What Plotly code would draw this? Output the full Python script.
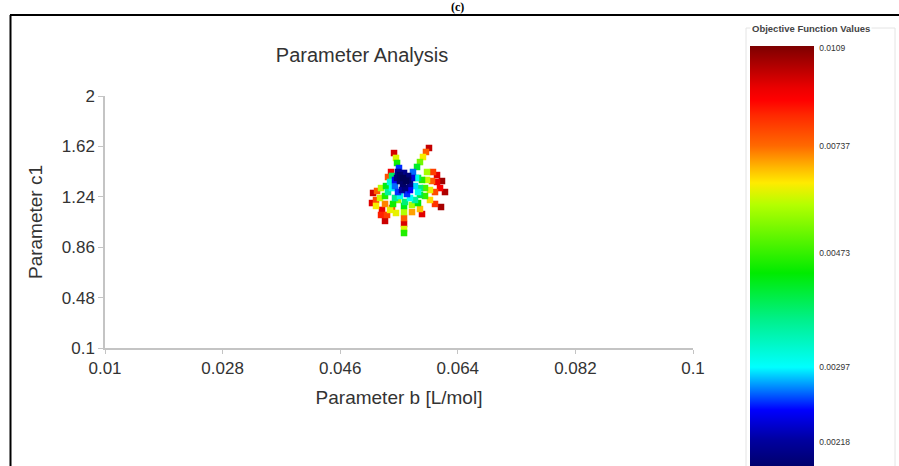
import numpy as np
import plotly.graph_objects as go

# ---------------- data ----------------
b_values = [
    0.05515, 0.05561, 0.05607, 0.05561, 0.05515, 0.05638, 0.05485, 0.05592, 0.05668, 0.05546,
    0.05470, 0.05638, 0.05577,
    0.05439, 0.05668, 0.05485, 0.05699, 0.05439, 0.05622, 0.05714, 0.05500,
    0.05393, 0.05745, 0.05515, 0.05668, 0.05363, 0.05791, 0.05760,
    0.05332, 0.05439, 0.05592, 0.05745, 0.05821, 0.05791, 0.05393, 0.05821,
    0.05470, 0.05454, 0.05424,
    0.05776, 0.05821, 0.05867, 0.05913, 0.05959,
    0.05852, 0.05929, 0.06005, 0.06082, 0.06158,
    0.05898, 0.05974, 0.06051, 0.06128, 0.06204,
    0.05898, 0.05974, 0.06051, 0.06143,
    0.05791, 0.05821, 0.05852,
    0.05577, 0.05577, 0.05577, 0.05577, 0.05577, 0.05577,
    0.05409, 0.05363, 0.05317, 0.05286, 0.05240, 0.05393,
    0.05286, 0.05210, 0.05148, 0.05087,
    0.05301, 0.05225, 0.05164, 0.05103,
    0.05378, 0.05332,
    0.06020, 0.06082,
    0.05485, 0.05699, 0.05286, 0.05148, 0.05225, 0.05454, 0.05699, 0.05929,
]
c1_values = [
    1.404, 1.382, 1.359, 1.337, 1.359, 1.397, 1.427, 1.306, 1.337, 1.291,
    1.382, 1.367, 1.420,
    1.367, 1.291, 1.276, 1.382, 1.321, 1.261, 1.427, 1.457,
    1.306, 1.321, 1.246, 1.231, 1.352, 1.276, 1.382,
    1.276, 1.231, 1.201, 1.216, 1.306, 1.382, 1.397, 1.254,
    1.495, 1.533, 1.570,
    1.465, 1.502, 1.540, 1.578, 1.608,
    1.367, 1.367, 1.359, 1.352, 1.359,
    1.306, 1.291, 1.276, 1.306, 1.276,
    1.246, 1.216, 1.186, 1.163,
    1.193, 1.148, 1.110,
    1.171, 1.125, 1.080, 1.035, 0.997, 0.967,
    1.186, 1.141, 1.103, 1.058, 1.141, 1.156,
    1.246, 1.231, 1.216, 1.193,
    1.321, 1.306, 1.284, 1.269,
    1.427, 1.389,
    1.427, 1.404,
    1.216, 1.178, 1.186, 1.171, 1.103, 1.118, 1.125, 1.427,
]
obj_values = [
    0.0019, 0.0018, 0.0018, 0.0019, 0.0019, 0.0020, 0.0021, 0.0020, 0.0021, 0.0022,
    0.0020, 0.0019, 0.0021,
    0.0025, 0.0025, 0.0026, 0.0024, 0.0027, 0.0026, 0.0027, 0.0026,
    0.0030, 0.0029, 0.0031, 0.0030, 0.0032, 0.0031, 0.0031,
    0.0036, 0.0037, 0.0038, 0.0036, 0.0038, 0.0040, 0.0039, 0.0041,
    0.0045, 0.0062, 0.0098,
    0.0042, 0.0053, 0.0064, 0.0076, 0.0100,
    0.0046, 0.0061, 0.0076, 0.0094, 0.0105,
    0.0049, 0.0063, 0.0079, 0.0091, 0.0103,
    0.0047, 0.0066, 0.0083, 0.0104,
    0.0044, 0.0068, 0.0096,
    0.0043, 0.0059, 0.0076, 0.0097, 0.0062, 0.0046,
    0.0045, 0.0063, 0.0081, 0.0099, 0.0095, 0.0078,
    0.0046, 0.0061, 0.0079, 0.0096,
    0.0043, 0.0059, 0.0076, 0.0099,
    0.0093, 0.0078,
    0.0081, 0.0096,
    0.0056, 0.0058, 0.0072, 0.0064, 0.0086, 0.0063, 0.0070, 0.0058,
]

x_ticks = [0.01, 0.028, 0.046, 0.064, 0.082, 0.1]
y_ticks = [0.1, 0.48, 0.86, 1.24, 1.62, 2]
colorbar_tick_values = [0.0109, 0.00737, 0.00473, 0.00297, 0.00218]

# ---------------- styling / layout constants ----------------
# fraction along the colour bar (0 = bottom, 1 = top) at which each labelled value sits
colorbar_tick_fracs = [0.9955, 0.7727, 0.5295, 0.2705, 0.1]
colorscale = [
    [0.0, "rgb(0,0,70)"],
    [0.105, "rgb(0,0,160)"],
    [0.173, "rgb(0,0,255)"],
    [0.218, "rgb(0,120,255)"],
    [0.270, "rgb(0,255,255)"],
    [0.377, "rgb(0,240,140)"],
    [0.484, "rgb(0,235,0)"],
    [0.639, "rgb(180,255,0)"],
    [0.689, "rgb(255,235,0)"],
    [0.723, "rgb(255,185,0)"],
    [0.773, "rgb(255,105,0)"],
    [0.843, "rgb(255,40,0)"],
    [0.877, "rgb(255,0,0)"],
    [0.905, "rgb(235,0,0)"],
    [1.0, "rgb(125,0,0)"],
]

W, H = 899, 466
PL, PR, PT, PB = 105, 693, 96, 348  # plot area in pixels


def px_x(p):
    return (p - PL) / (PR - PL)


def px_y(p):
    return (PB - p) / (PB - PT)


# map objective values onto the (non-linear) colour bar
t_asc = np.array(colorbar_tick_values[::-1])
f_asc = np.array(colorbar_tick_fracs[::-1])
obj = np.array(obj_values)
slope_lo = (f_asc[1] - f_asc[0]) / (t_asc[1] - t_asc[0])
frac = np.where(obj < t_asc[0], f_asc[0] + (obj - t_asc[0]) * slope_lo, np.interp(obj, t_asc, f_asc))
frac = np.clip(frac, 0, 1)

order = np.argsort(-obj)  # draw high values first, low (dark core) on top
bx = np.array(b_values)[order]
cy = np.array(c1_values)[order]
fr = frac[order]

font = "Liberation Sans, Arial, sans-serif"

fig = go.Figure()
fig.add_trace(go.Scatter(
    x=bx, y=cy, mode="markers",
    marker=dict(
        symbol="square", size=6.5, color=fr, cmin=0, cmax=1,
        colorscale=colorscale, line=dict(width=0),
        colorbar=dict(
            x=px_x(750), xanchor="left", xpad=0, ypad=0,
            y=px_y(46), yanchor="top",
            lenmode="pixels", len=440,
            thicknessmode="pixels", thickness=64,
            outlinewidth=0,
            tickmode="array",
            tickvals=colorbar_tick_fracs,
            ticktext=[str(v) for v in colorbar_tick_values],
            ticks="outside", ticklen=4, tickcolor="rgba(0,0,0,0)",
            tickfont=dict(family=font, size=8.5, color="#333"),
        ),
    ),
    showlegend=False, hoverinfo="x+y",
))

fig.update_layout(
    width=W, height=H,
    margin=dict(l=PL, r=W - PR, t=PT, b=H - PB, pad=0),
    paper_bgcolor="white", plot_bgcolor="white",
    title=dict(text="Parameter Analysis", x=px_x(362), xref="paper", xanchor="center",
               y=1 - 55 / H, yref="container", yanchor="middle",
               font=dict(family=font, size=20, color="#333")),
    xaxis=dict(
        range=[0.01, 0.1], tickmode="array", tickvals=x_ticks,
        ticktext=[str(v) for v in x_ticks],
        showgrid=False, zeroline=False, showline=True, linecolor="#c4c4c4", linewidth=1.5,
        ticks="outside", ticklen=4, tickcolor="#c4c4c4",
        tickfont=dict(family=font, size=17, color="#333"),
        title=dict(text="Parameter b [L/mol]", standoff=14,
                   font=dict(family=font, size=19, color="#333")),
    ),
    yaxis=dict(
        range=[0.1, 2], tickmode="array", tickvals=y_ticks,
        ticktext=[str(v) for v in y_ticks],
        showgrid=False, zeroline=False, showline=True, linecolor="#c4c4c4", linewidth=1.5,
        ticks="outside", ticklen=5, tickcolor="#c4c4c4",
        tickfont=dict(family=font, size=17, color="#333"),
        title=dict(text="Parameter c1", standoff=14,
                   font=dict(family=font, size=19, color="#333")),
    ),
    shapes=[
        # outer black frame (top and left)
        dict(type="line", xref="paper", yref="paper", x0=px_x(10), x1=px_x(905), y0=px_y(15), y1=px_y(15),
             line=dict(color="black", width=2)),
        dict(type="line", xref="paper", yref="paper", x0=px_x(10.5), x1=px_x(10.5), y0=px_y(15), y1=px_y(480),
             line=dict(color="black", width=2)),
        # light legend box
        dict(type="rect", xref="paper", yref="paper", x0=px_x(746), x1=px_x(895), y0=px_y(28), y1=px_y(480),
             line=dict(color="#e4e4e4", width=1)),
    ],
    annotations=[
        dict(text="<b>(c)</b>", xref="paper", yref="paper", x=px_x(458), y=px_y(7.5),
             xanchor="center", yanchor="middle", showarrow=False,
             font=dict(family="Liberation Serif, Times New Roman, serif", size=12, color="black")),
        dict(text="<b>Objective Function Values</b>", xref="paper", yref="paper", x=px_x(750), y=px_y(28),
             xanchor="left", yanchor="middle", showarrow=False, bgcolor="white", borderpad=1,
             font=dict(family=font, size=9.5, color="#444")),
    ],
)

fig.write_html("out.html")
